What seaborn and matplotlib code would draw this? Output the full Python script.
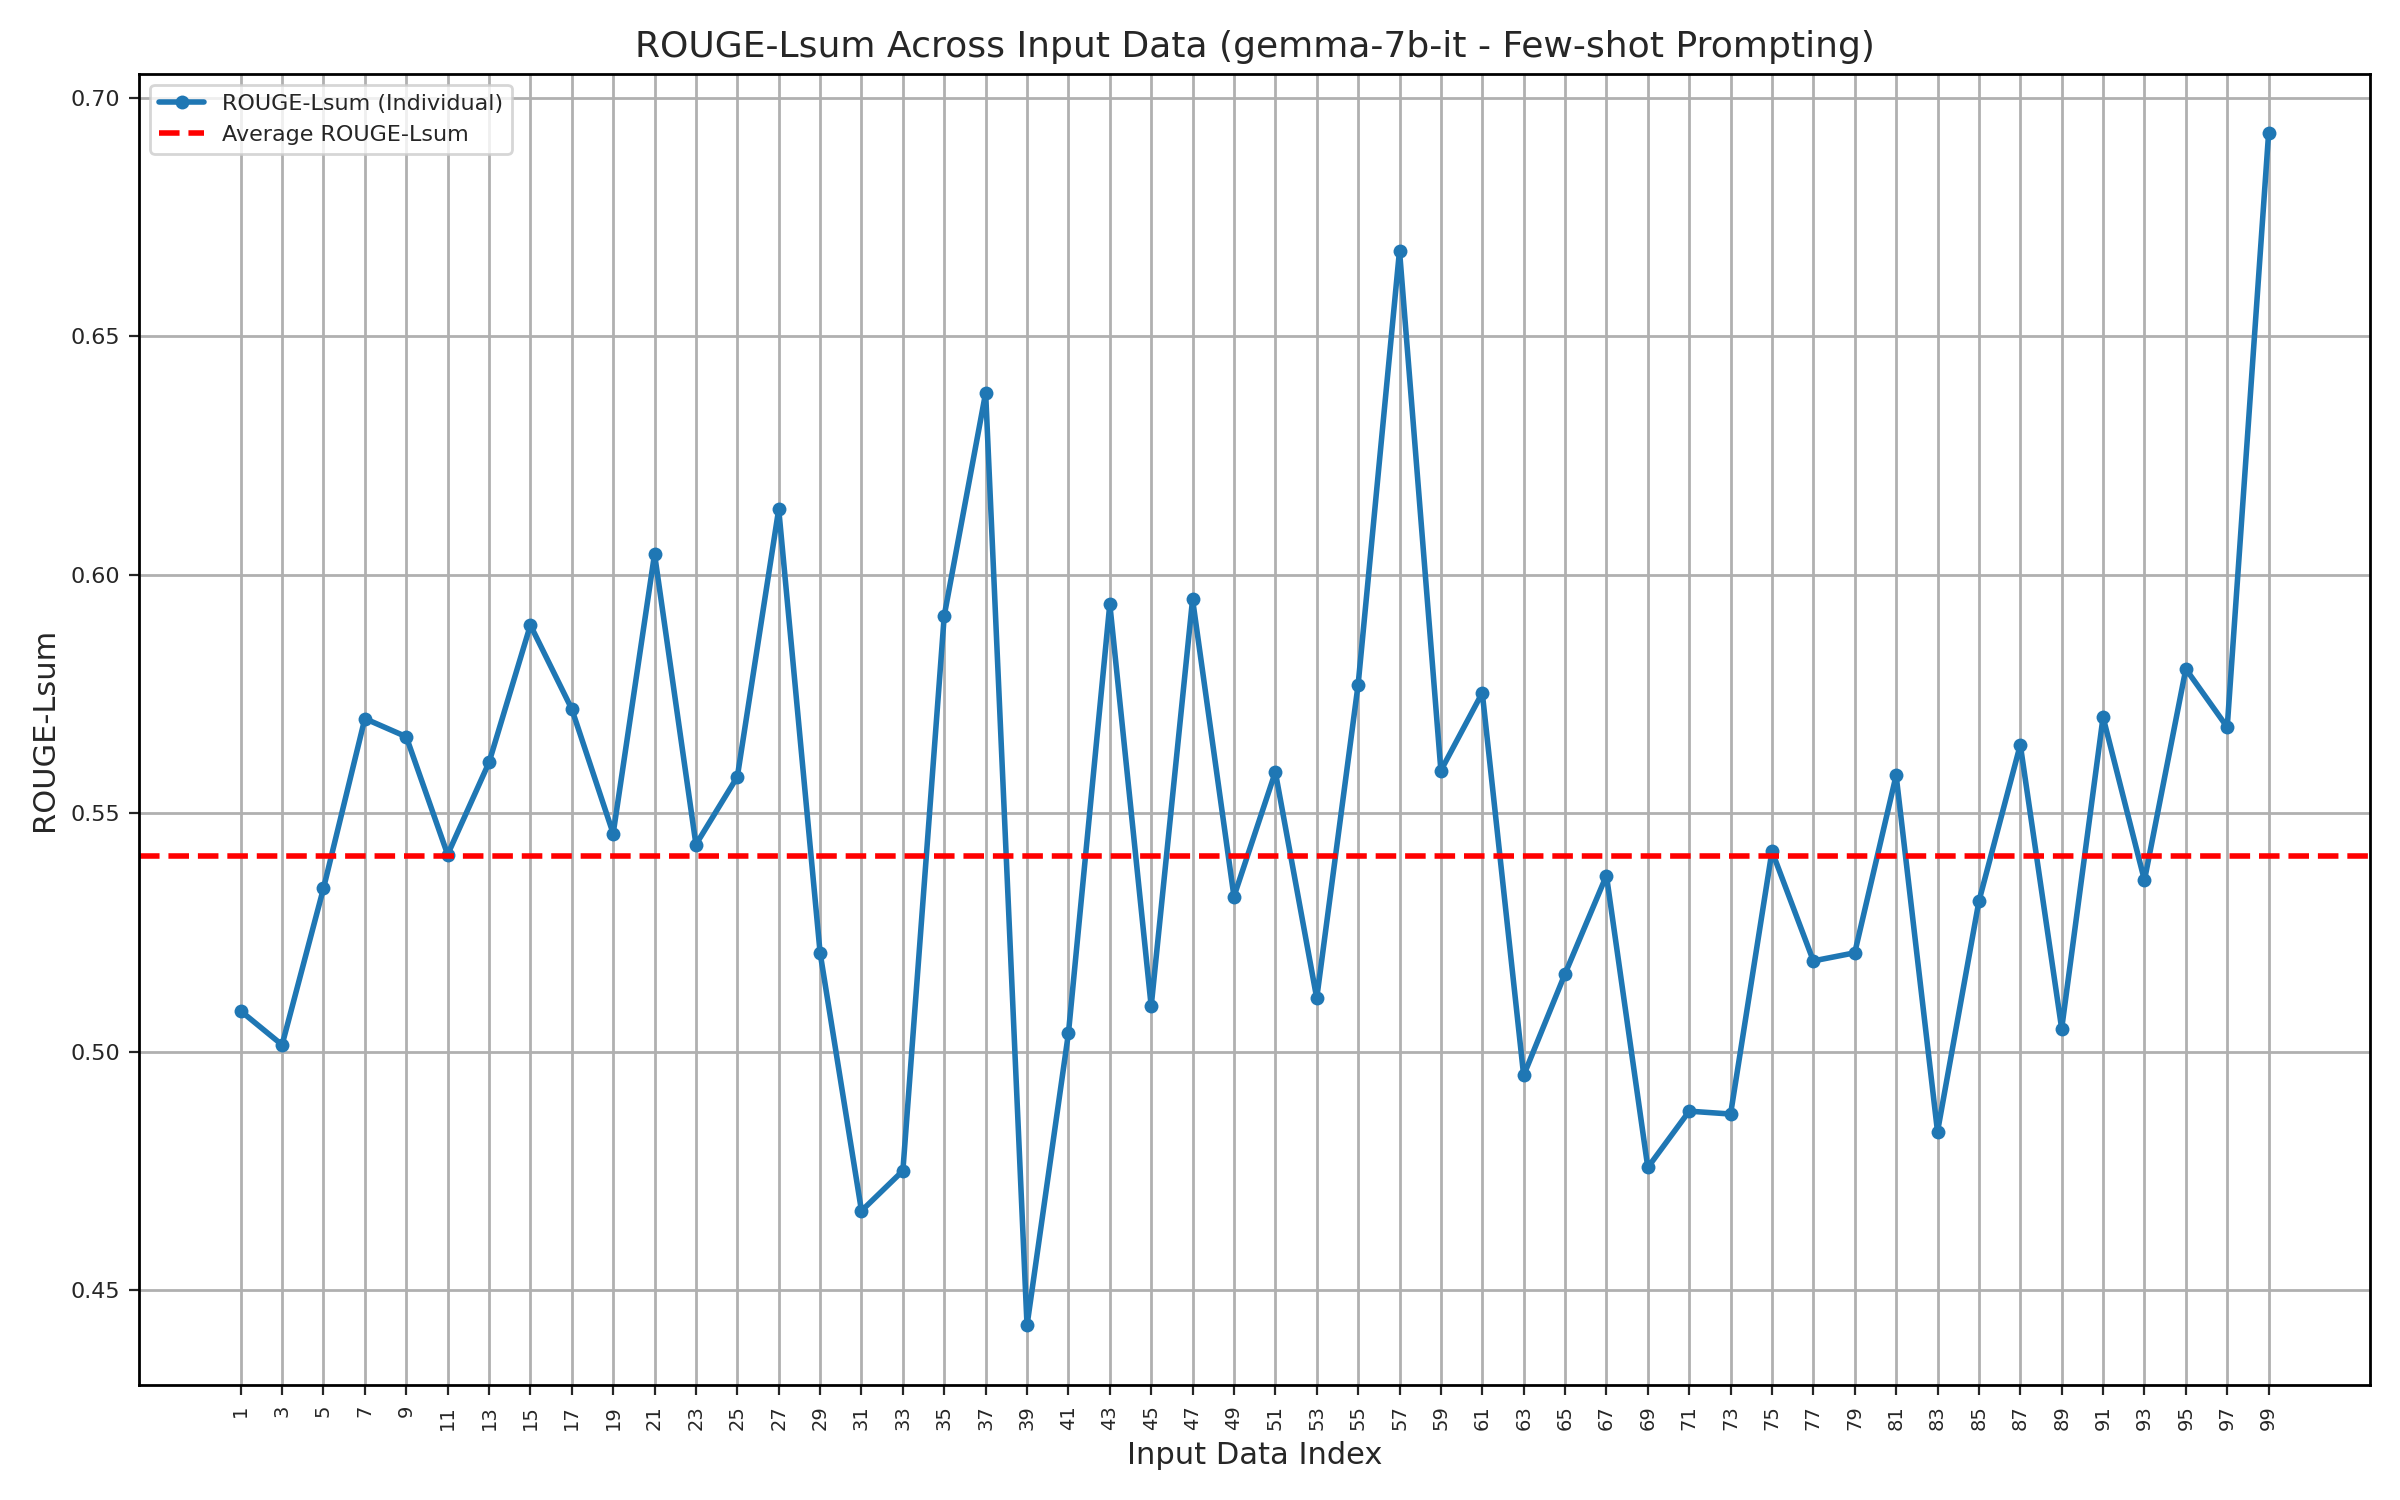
import numpy as np
import pandas as pd
import matplotlib
matplotlib.use("Agg")
import matplotlib.pyplot as plt
import seaborn as sns

indices = list(range(1, 100, 2))
rouge_lsum = [0.5085, 0.5014, 0.5342, 0.5698, 0.5660, 0.5413, 0.5606, 0.5894, 0.5718, 0.5457,
              0.6043, 0.5434, 0.5576, 0.6137, 0.5207, 0.4666, 0.4750, 0.5914, 0.6381, 0.4426,
              0.5038, 0.5938, 0.5095, 0.5948, 0.5325, 0.5586, 0.5112, 0.5769, 0.6679, 0.5589,
              0.5752, 0.4950, 0.5163, 0.5369, 0.4757, 0.4875, 0.4869, 0.5420, 0.5190, 0.5207,
              0.5579, 0.4832, 0.5315, 0.5643, 0.5048, 0.5701, 0.5359, 0.5802, 0.5680, 0.6925]
average = 0.541

df = pd.DataFrame({"idx": indices, "score": rouge_lsum})

sns.set_style("white")
plt.rcParams['font.family'] = ['DejaVu Sans']
fig, ax = plt.subplots(figsize=(12, 7.5), dpi=200)
sns.lineplot(data=df, x="idx", y="score", marker="o", markersize=5, markeredgewidth=0,
             color="#1f77b4", linewidth=2, label="ROUGE-Lsum (Individual)", ax=ax)
ax.axhline(average, color="red", linestyle="--", linewidth=2, label="Average ROUGE-Lsum")

ax.set_xticks(indices)
ax.set_xticklabels([str(i) for i in indices], rotation=90, fontsize=7)
ax.tick_params(axis="y", labelsize=8)
ax.tick_params(axis="both", direction="out", length=3.5, left=True, bottom=True)
ax.set_yticks([0.45, 0.50, 0.55, 0.60, 0.65, 0.70])
ax.grid(True, color="#b0b0b0", linewidth=1)
ax.set_ylim(0.430, 0.705)
ax.set_xlim(-3.9, 103.9)
for s in ax.spines.values():
    s.set_color("black")
    s.set_linewidth(1)
ax.set_title("ROUGE-Lsum Across Input Data (gemma-7b-it - Few-shot Prompting)", fontsize=13)
ax.set_xlabel("Input Data Index", fontsize=11)
ax.set_ylabel("ROUGE-Lsum", fontsize=11)
ax.legend(loc="upper left", fontsize=8)
plt.tight_layout()
plt.savefig("out.png")
